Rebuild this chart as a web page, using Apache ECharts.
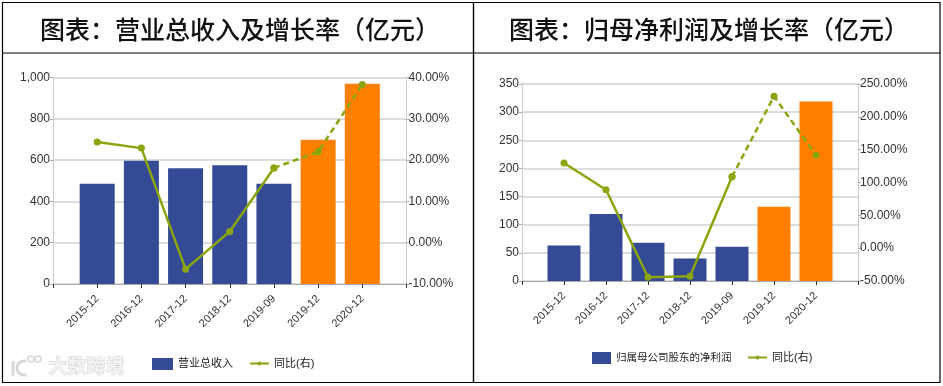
<!DOCTYPE html>
<html><head><meta charset="utf-8">
<style>html,body{margin:0;padding:0;background:#fff}#c{width:943px;height:386px}</style>
<script src="https://cdn.jsdelivr.net/npm/echarts@6/dist/echarts.min.js"></script>
</head><body><div id="c"></div>
<script>
const categories = ['', '2015-12','2016-12','2017-12','2018-12','2019-09','2019-12','2020-12', ''];
const revenue = [null,485,597,560,575,485,698,970,null];
const revenueGrowthActual = [null,24.4,22.9,-6.4,2.7,18.1,null,null,null];
const revenueGrowthForecast = [null,null,null,null,null,18.1,22,38.3,null];
const profit = [null,63,119,68,40,61,132,319,null];
const profitGrowthActual = [null,129.7,89,-44.4,-42.8,108.8,null,null,null];
const profitGrowthForecast = [null,null,null,null,null,108.8,231.3,141.4,null];
const forecastFrom = 6;
const titles = ['图表\uFF1A营业总收入及增长率\uFF08亿元\uFF09','图表\uFF1A归母净利润及增长率\uFF08亿元\uFF09'];
const barNames = ['营业总收入','归属母公司股东的净利润'];
const lineName = '同比(右)';

const BLUE='#344a94', ORANGE='#ff7f00', GREEN='#8aa60f', FONT='"Liberation Sans","Noto Sans CJK SC",sans-serif', TXT='#333';
const grids=[{left:53,width:353.5,top:77.5,height:206.5},{left:522,width:336,top:84,height:197}];
const bars=d=>d.map((v,i)=>v==null?null:{value:v,itemStyle:{color:i>=forecastFrom?ORANGE:BLUE}});
const lbl={fontFamily:FONT,fontSize:12,color:TXT};
function xAxis(g){return {type:'category',gridIndex:g,data:categories,boundaryGap:false,
  axisLine:{lineStyle:{color:'#aaa'}},axisTick:{show:true,length:4,lineStyle:{color:'#333'},alignWithLabel:true},
  axisLabel:{...lbl,fontSize:11,rotate:45,margin:13,interval:0,padding:[6,0,0,0]},splitLine:{show:false}};}
function yL(g,max,interval){return {type:'value',gridIndex:g,min:0,max,interval,position:'left',
  axisLine:{show:true,lineStyle:{color:'#ccc'}},axisTick:{show:true,length:3,lineStyle:{color:'#aaa'}},
  axisLabel:{...lbl,margin:3,formatter:v=>v.toLocaleString('en-US')},splitLine:{show:true,lineStyle:{color:'#d2d2d2',width:1.5}}};}
function yR(g,min,max,interval){return {type:'value',gridIndex:g,min,max,interval,position:'right',
  axisLine:{show:true,lineStyle:{color:'#ccc'}},axisTick:{show:true,length:3,lineStyle:{color:'#aaa'}},
  axisLabel:{...lbl,margin:2,formatter:v=>v.toFixed(2)+'%'},splitLine:{show:false}};}
function panel(g,barData,a,f,bw){
  const xi=g,yi=g*2,yri=g*2+1;
  return [
   {type:'bar',name:barNames[g],xAxisIndex:xi,yAxisIndex:yi,data:bars(barData),barWidth:bw,itemStyle:{color:BLUE},z:2},
   {type:'line',name:lineName,xAxisIndex:xi,yAxisIndex:yri,data:a,symbol:'circle',symbolSize:7,itemStyle:{color:GREEN},lineStyle:{color:GREEN,width:2.5},connectNulls:false,z:4},
   {type:'line',name:lineName,xAxisIndex:xi,yAxisIndex:yri,data:f,symbol:'circle',symbolSize:7,itemStyle:{color:GREEN},lineStyle:{color:GREEN,width:2.5,type:[6,4]},connectNulls:false,z:4}
  ];
}
const frame=[[2.5,2.5,471,380],[473.5,2.5,466.5,380]].map(r=>({type:'rect',shape:{x:r[0],y:r[1],width:r[2],height:r[3]},style:{fill:'none',stroke:'#000',lineWidth:1.2},silent:true}));
const WM='#d8d8d8';
const legendBase={selectedMode:false,padding:0,textStyle:{...lbl,color:'#222',fontSize:11}};
const titleStyle={fontFamily:'"Noto Sans CJK SC"',fontSize:25,fontWeight:500,color:'#111'};
const chart=echarts.init(document.getElementById('c'),null,{renderer:'canvas'});
chart.setOption({
 animation:false,backgroundColor:'#fff',
 title:[
  {text:titles[0],left:235,top:12,textAlign:'center',textStyle:titleStyle},
  {text:titles[1],left:704,top:12,textAlign:'center',textStyle:titleStyle}
 ],
 grid:grids,
 xAxis:[xAxis(0),xAxis(1)],
 yAxis:[yL(0,1000,200),yR(0,-10,40,10),yL(1,350,50),yR(1,-50,250,50)],
 legend:[
  {...legendBase,data:[{name:barNames[0],icon:'rect'}],left:152,top:358,itemWidth:21,itemHeight:12},
  {...legendBase,data:[{name:lineName}],left:249,top:358,itemWidth:19,itemHeight:5,itemGap:0},
  {...legendBase,textStyle:{...legendBase.textStyle,fontSize:10.5},data:[{name:barNames[1],icon:'rect'}],left:592,top:352,itemWidth:19,itemHeight:12},
  {...legendBase,data:[{name:lineName}],left:747,top:352,itemWidth:19,itemHeight:5,itemGap:0}
 ],
 series:[...panel(0,revenue,revenueGrowthActual,revenueGrowthForecast,35),...panel(1,profit,profitGrowthActual,profitGrowthForecast,33)],
 graphic:[...frame,
  {type:'line',shape:{x1:2,y1:53,x2:940,y2:53},style:{stroke:'#000',lineWidth:1.2},silent:true},
  {type:'text',left:48,top:356,style:{text:'大数跨境',font:'bold 19px "Noto Sans CJK SC"',fill:'#f2f2f2',stroke:'#cfcfcf',lineWidth:0.8},silent:true},
  {type:'line',shape:{x1:13,y1:361,x2:13,y2:376},style:{stroke:WM,lineWidth:3},silent:true},
  {type:'arc',shape:{cx:24,cy:368,r:7,startAngle:1.2,endAngle:5},style:{fill:'none',stroke:WM,lineWidth:3},silent:true},
  {type:'circle',shape:{cx:31,cy:359,r:3},style:{fill:'none',stroke:WM,lineWidth:1.5},silent:true},
  {type:'circle',shape:{cx:38,cy:359,r:3},style:{fill:'none',stroke:WM,lineWidth:1.5},silent:true}
 ]
});
</script></body></html>
